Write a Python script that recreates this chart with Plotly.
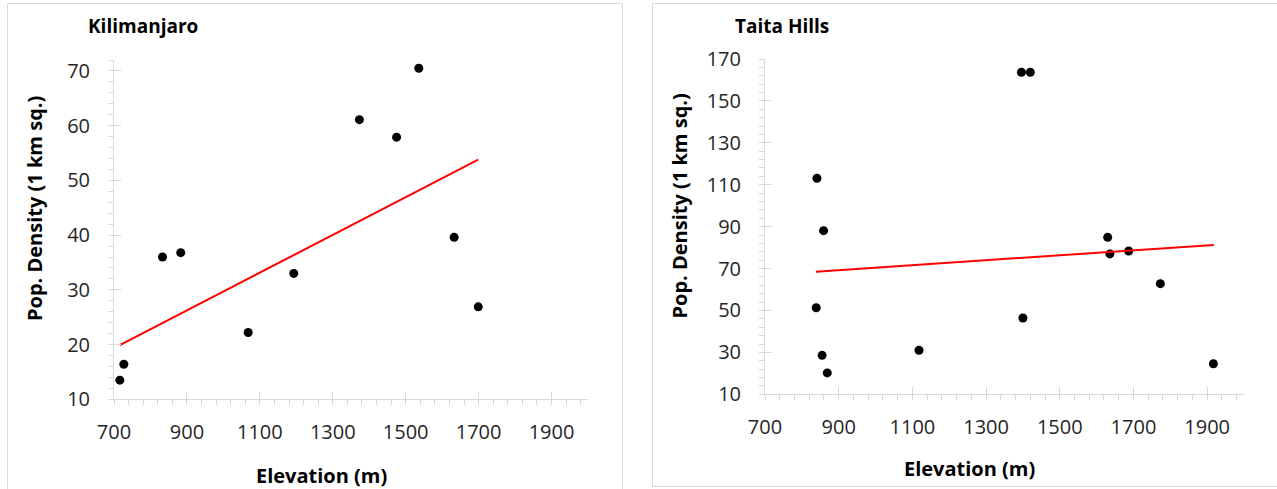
import plotly.graph_objects as go

# ---------------- data ----------------
kili_elev = [716, 727, 833, 883, 1068, 1193, 1373, 1475, 1536, 1633, 1699]
kili_dens = [13.5, 16.4, 36.0, 36.8, 22.2, 33.0, 61.1, 57.9, 70.5, 39.6, 26.9]
kili_trend_elev = [716, 1699]
kili_trend_dens = [19.9, 53.8]

taita_elev = [1396, 1420, 841, 859, 839, 855, 869, 1118, 1400, 1630, 1636, 1687, 1773, 1917]
taita_dens = [163.7, 163.7, 113.1, 88.1, 51.3, 28.6, 20.2, 31.0, 46.4, 84.9, 77.0, 78.4, 62.8, 24.6]
taita_trend_elev = [838, 1918]
taita_trend_dens = [68.5, 81.3]

x_ticks = [700, 900, 1100, 1300, 1500, 1700, 1900]
kili_y_ticks = [10, 20, 30, 40, 50, 60, 70]
taita_y_ticks = [10, 30, 50, 70, 90, 110, 130, 150, 170]

titles = ["Kilimanjaro", "Taita Hills"]
x_title = "Elevation (m)"
y_title = "Pop. Density (1 km sq.)"

# ---------------- layout helpers ----------------
W, H = 1277, 489
FONT = "Open Sans"
AX_COL = "#d9d9d9"
TICK_FONT = dict(family=FONT, size=20, color="#262626")


def px(x):
    return x / W


def py(y):
    return 1 - y / H


fig = go.Figure()

# data traces
fig.add_trace(go.Scatter(x=kili_elev, y=kili_dens, mode="markers",
                         marker=dict(color="black", size=9), xaxis="x", yaxis="y",
                         cliponaxis=False, showlegend=False))
fig.add_trace(go.Scatter(x=kili_trend_elev, y=kili_trend_dens, mode="lines",
                         line=dict(color="#ff0000", width=2), xaxis="x", yaxis="y",
                         showlegend=False))
fig.add_trace(go.Scatter(x=taita_elev, y=taita_dens, mode="markers",
                         marker=dict(color="black", size=9), xaxis="x2", yaxis="y2",
                         cliponaxis=False, showlegend=False))
fig.add_trace(go.Scatter(x=taita_trend_elev, y=taita_trend_dens, mode="lines",
                         line=dict(color="#ff0000", width=2), xaxis="x2", yaxis="y2",
                         showlegend=False))
# invisible traces to host the overlay axes (inner half of the crossing major ticks)
fig.add_trace(go.Scatter(x=kili_trend_elev, y=kili_trend_dens, mode="markers",
                         marker=dict(opacity=0), xaxis="x3", yaxis="y3",
                         showlegend=False, hoverinfo="skip"))
fig.add_trace(go.Scatter(x=taita_trend_elev, y=taita_trend_dens, mode="markers",
                         marker=dict(opacity=0), xaxis="x4", yaxis="y4",
                         showlegend=False, hoverinfo="skip"))

kx_dom = [px(114), px(588)]
ky_dom = [py(399.3), py(60)]
tx_dom = [px(765), px(1244)]
ty_dom = [py(394.3), py(59)]

x_common = dict(range=[700, 2000], tickmode="array", tickvals=x_ticks,
                showgrid=False, zeroline=False, showline=True, linecolor=AX_COL,
                linewidth=1, ticks="outside", ticklen=5, tickcolor=AX_COL,
                tickfont=TICK_FONT, ticklabelstandoff=10, automargin=False,
                minor=dict(dtick=40, tick0=700, ticks="outside", ticklen=5,
                           tickcolor=AX_COL, showgrid=False))


def y_common(rng, ticks, minor_dt):
    return dict(range=rng, tickmode="array", tickvals=ticks,
                showgrid=False, zeroline=False, showline=True, linecolor=AX_COL,
                linewidth=1, ticks="outside", ticklen=5, tickcolor=AX_COL,
                tickfont=TICK_FONT, ticklabelstandoff=14, automargin=False,
                minor=dict(dtick=minor_dt, tick0=rng[0], ticks="outside", ticklen=5,
                           tickcolor=AX_COL, showgrid=False))


def overlay(rng, ticks, dom, anchor, over):
    return dict(range=rng, tickmode="array", tickvals=ticks, domain=dom,
                anchor=anchor, overlaying=over, showgrid=False, zeroline=False,
                showline=False, ticks="inside", ticklen=7, tickcolor=AX_COL,
                showticklabels=False, automargin=False)


fig.update_layout(
    template="none",
    width=W, height=H, autosize=False,
    margin=dict(l=0, r=0, t=0, b=0, pad=0, autoexpand=False),
    paper_bgcolor="white", plot_bgcolor="rgba(0,0,0,0)",
    showlegend=False,
    xaxis=dict(domain=kx_dom, anchor="y", **x_common),
    yaxis=dict(domain=ky_dom, anchor="x", **y_common([10, 72], kili_y_ticks, 2)),
    xaxis2=dict(domain=tx_dom, anchor="y2", **x_common),
    yaxis2=dict(domain=ty_dom, anchor="x2", **y_common([10, 170], taita_y_ticks, 4)),
    xaxis3=overlay([700, 2000], x_ticks, kx_dom, "y3", "x"),
    yaxis3=overlay([10, 72], kili_y_ticks, ky_dom, "x3", "y"),
    xaxis4=overlay([700, 2000], x_ticks, tx_dom, "y4", "x2"),
    yaxis4=overlay([10, 170], taita_y_ticks, ty_dom, "x4", "y2"),
)

# panel borders
fig.add_shape(type="rect", xref="paper", yref="paper",
              x0=px(7.5), x1=px(622.5), y0=py(495), y1=py(3.5),
              line=dict(color=AX_COL, width=1), fillcolor="rgba(0,0,0,0)", layer="below")
fig.add_shape(type="rect", xref="paper", yref="paper",
              x0=px(652.5), x1=px(1282), y0=py(486.5), y1=py(3.5),
              line=dict(color=AX_COL, width=1), fillcolor="rgba(0,0,0,0)", layer="below")

BOLD = dict(family=FONT, size=20, color="black", weight="bold")
TITLE_FONT = dict(family=FONT, size=19, color="black", weight="bold")

# panel titles
fig.add_annotation(text=titles[0], xref="paper", yref="paper", x=px(86), y=py(26),
                   xanchor="left", yanchor="middle", showarrow=False, font=TITLE_FONT)
fig.add_annotation(text=titles[1], xref="paper", yref="paper", x=px(733), y=py(26),
                   xanchor="left", yanchor="middle", showarrow=False, font=TITLE_FONT)

# axis titles
fig.add_annotation(text=x_title, xref="paper", yref="paper", x=px(321), y=py(475),
                   xanchor="center", yanchor="middle", showarrow=False, font=BOLD)
fig.add_annotation(text=x_title, xref="paper", yref="paper", x=px(969), y=py(468),
                   xanchor="center", yanchor="middle", showarrow=False, font=BOLD)
fig.add_annotation(text=y_title, xref="paper", yref="paper", x=px(34), y=py(209),
                   xanchor="center", yanchor="middle", textangle=-90,
                   showarrow=False, font=BOLD)
fig.add_annotation(text=y_title, xref="paper", yref="paper", x=px(679), y=py(205.5),
                   xanchor="center", yanchor="middle", textangle=-90,
                   showarrow=False, font=BOLD)

fig.write_html("out.html")
